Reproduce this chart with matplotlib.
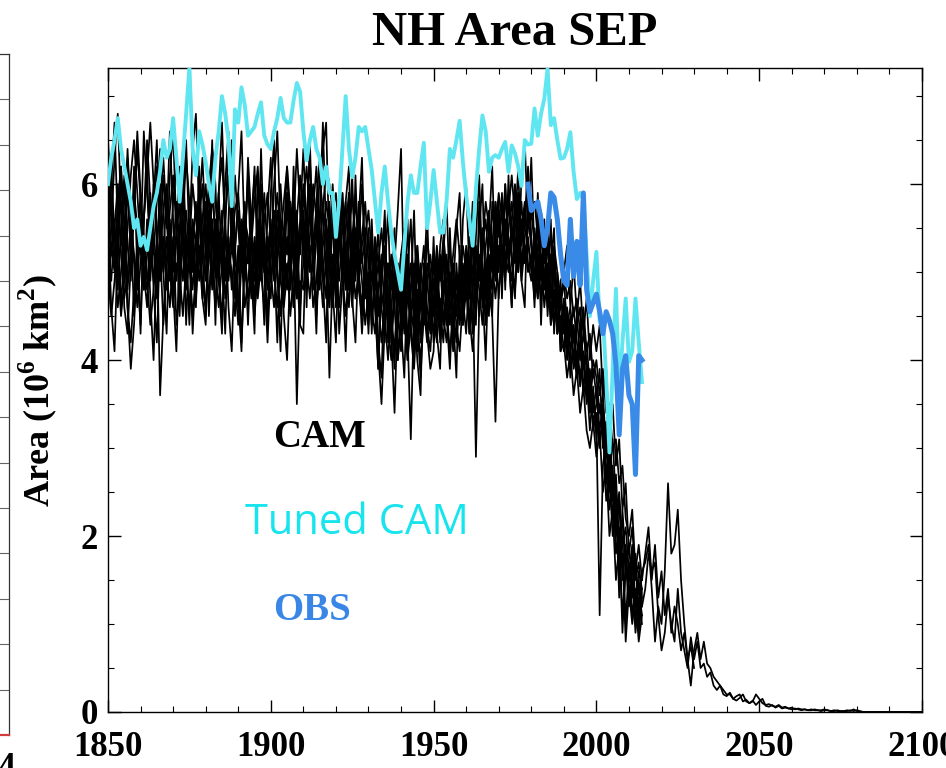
"""NH sea ice area (September): CAM ensemble, tuned CAM and observations."""
import numpy as np
import matplotlib
matplotlib.use("Agg")
import matplotlib.pyplot as plt
from matplotlib.ticker import MultipleLocator

plt.rcParams["mathtext.fontset"] = "custom"
plt.rcParams["mathtext.rm"] = "Liberation Serif:bold"
plt.rcParams["mathtext.bf"] = "Liberation Serif:bold"

SERIF = "Liberation Serif"

years_hist = np.arange(1850, 2015)
years_ext = np.arange(2015, 2101)
years_ext_short = np.arange(2015, 2031)
obs_years = np.arange(1979, 2015)

# CAM ensemble members, 1850-2014 (10^6 km^2)
cam_m1 = [
    5.9, 5.2, 5.6, 4.8, 5.5, 6.1, 5.3, 4.9, 5.7, 6.4,
    5.8, 5.0, 4.6, 5.4, 6.0, 5.5, 4.9, 5.2, 5.9, 5.3,
    4.7, 5.5, 6.2, 5.6, 5.0, 4.6, 5.3, 5.8, 5.1, 5.6,
    6.0, 5.4, 4.8, 5.2, 5.9, 6.3, 5.5, 4.9, 5.3, 5.0,
    4.6, 5.4, 5.8, 5.1, 5.5, 4.9, 5.2, 5.9, 5.4, 4.8,
    5.2, 5.7, 5.0, 4.5, 5.3, 5.9, 5.6, 5.1, 4.7, 5.5,
    6.0, 5.4, 5.0, 5.7, 6.2, 5.3, 4.9, 5.6, 5.2, 5.5,
    4.8, 5.3, 5.7, 5.0, 4.6, 5.4, 5.1, 5.8, 5.2, 4.7,
    5.0, 4.4, 4.9, 5.5, 4.6, 4.2, 5.1, 4.8, 5.3, 4.5,
    4.1, 4.8, 5.2, 4.6, 4.3, 5.0, 4.7, 4.4, 5.1, 4.9,
    4.5, 5.0, 4.6, 4.2, 4.9, 5.3, 4.7, 5.0, 4.4, 4.8,
    5.2, 4.7, 5.4, 5.0, 4.5, 5.3, 5.6, 5.1, 4.8, 5.4,
    5.7, 5.2, 4.9, 5.5, 5.8, 5.3, 5.0, 5.6, 5.2, 5.4,
    5.0, 5.5, 5.1, 4.7, 5.3, 4.9, 5.2, 4.6, 4.8, 4.4,
    4.7, 4.2, 4.5, 4.0, 4.4, 4.6, 3.9, 4.2, 3.7, 4.0,
    3.8, 3.4, 3.6, 3.0, 2.7, 3.1, 2.4, 1.3, 2.3, 1.7,
    1.5, 1.9, 1.2, 1.4, 1.1,
]
cam_m2 = [
    5.1, 6.0, 6.7, 5.5, 4.6, 5.3, 6.4, 5.6, 4.5, 5.4,
    4.3, 5.6, 6.5, 5.8, 4.8, 4.2, 5.4, 6.1, 5.5, 6.6,
    5.6, 4.4, 4.8, 5.9, 6.5, 5.3, 4.3, 5.1, 6.2, 5.2,
    4.5, 5.6, 6.4, 6.0, 4.9, 4.3, 5.5, 6.5, 6.0, 4.7,
    5.3, 4.2, 5.1, 6.3, 5.6, 4.5, 5.0, 6.4, 5.2, 4.4,
    5.9, 6.5, 5.0, 4.1, 5.4, 6.2, 5.2, 4.6, 5.7, 4.4,
    4.3, 5.6, 6.3, 5.4, 4.5, 5.5, 6.4, 6.7, 5.2, 4.6,
    5.6, 4.3, 4.9, 5.8, 6.2, 4.7, 4.2, 5.3, 6.0, 5.1,
    4.3, 5.4, 4.6, 3.9, 5.0, 5.6, 4.2, 4.9, 5.5, 4.0,
    4.6, 5.4, 4.0, 4.8, 5.7, 4.4, 3.8, 4.6, 5.4, 5.0,
    4.2, 4.4, 5.3, 5.6, 4.5, 3.9, 4.8, 5.5, 5.9, 4.7,
    4.3, 5.0, 5.8, 4.6, 5.5, 6.0, 4.7, 4.5, 5.8, 5.3,
    4.7, 5.4, 6.0, 5.3, 4.6, 5.5, 6.2, 5.0, 5.6, 6.2,
    5.4, 4.7, 5.9, 5.0, 5.6, 4.5, 5.1, 5.5, 4.3, 4.8,
    4.3, 4.6, 4.1, 4.4, 3.9, 4.2, 4.5, 3.8, 3.5, 3.9,
    3.6, 3.2, 3.5, 2.9, 3.2, 2.6, 2.2, 2.5, 1.9, 2.1,
    1.6, 1.3, 1.8, 1.0, 1.4,
]
cam_m3 = [
    4.7, 5.3, 5.0, 5.8, 6.2, 5.6, 4.6, 3.9, 4.4, 5.2,
    5.6, 5.0, 4.8, 5.5, 5.2, 5.8, 6.4, 5.7, 5.0, 4.6,
    5.2, 5.8, 5.3, 4.9, 5.4, 5.1, 4.5, 4.9, 5.6, 6.0,
    5.2, 4.7, 5.3, 5.6, 5.0, 4.5, 5.1, 5.4, 4.8, 5.3,
    5.7, 5.2, 4.6, 4.9, 5.3, 5.8, 6.2, 5.5, 5.0, 5.3,
    4.9, 5.3, 5.7, 5.2, 4.8, 5.1, 4.5, 5.0, 5.6, 6.1,
    5.5, 4.9, 5.3, 4.6, 4.9, 5.5, 5.1, 4.7, 5.3, 6.0,
    5.4, 5.8, 5.2, 4.8, 5.3, 5.9, 5.4, 4.8, 4.5, 5.0,
    5.4, 4.9, 5.2, 4.7, 4.2, 4.6, 5.1, 4.5, 4.1, 4.8,
    5.2, 4.5, 4.0, 4.4, 4.9, 4.3, 4.6, 5.0, 4.4, 4.1,
    4.7, 5.1, 4.5, 4.8, 5.2, 4.6, 4.3, 4.7, 5.0, 4.5,
    4.9, 5.4, 5.0, 4.6, 5.1, 4.8, 5.3, 5.7, 5.2, 4.9,
    5.3, 5.0, 5.4, 5.9, 5.5, 5.1, 5.4, 4.9, 5.3, 5.0,
    5.2, 4.8, 5.3, 5.5, 5.0, 4.6, 4.9, 5.2, 4.7, 4.3,
    4.5, 4.1, 4.3, 4.6, 4.2, 3.8, 4.1, 3.6, 3.9, 3.4,
    3.7, 3.1, 3.3, 2.6, 2.9, 2.4, 2.7, 1.9, 2.2, 1.6,
    1.9, 1.4, 1.7, 1.1, 1.6,
]
cam_m4 = [
    6.5, 5.8, 5.2, 4.6, 5.0, 5.5, 4.8, 5.3, 5.9, 5.5,
    5.2, 6.6, 5.9, 5.3, 4.9, 5.4, 3.6, 4.5, 5.1, 5.7,
    6.1, 5.5, 5.0, 5.6, 6.3, 5.8, 5.2, 4.7, 5.3, 4.9,
    4.6, 5.2, 5.9, 5.4, 4.9, 5.5, 6.0, 6.6, 5.7, 5.1,
    5.0, 5.6, 5.3, 4.7, 5.0, 5.4, 4.8, 5.3, 5.9, 5.2,
    5.5, 4.9, 5.4, 6.0, 5.3, 4.8, 5.5, 5.9, 5.3, 4.6,
    5.1, 5.6, 5.2, 4.8, 5.4, 6.1, 5.7, 5.0, 4.6, 5.2,
    5.0, 4.6, 5.1, 5.5, 5.9, 5.2, 4.7, 5.0, 5.4, 5.8,
    5.1, 4.6, 4.3, 4.8, 5.2, 4.5, 4.0, 4.6, 5.0, 4.4,
    4.8, 4.3, 4.7, 5.1, 4.5, 4.1, 4.9, 5.3, 4.6, 4.3,
    4.9, 4.6, 5.1, 4.5, 4.2, 4.7, 5.1, 4.5, 4.9, 5.3,
    5.0, 4.5, 4.1, 4.7, 5.0, 5.5, 5.0, 4.6, 5.3, 5.8,
    5.4, 5.7, 5.2, 5.0, 5.6, 6.0, 5.4, 5.8, 5.1, 5.5,
    5.7, 5.3, 4.9, 5.4, 5.1, 5.3, 4.7, 5.0, 4.4, 4.6,
    4.9, 4.4, 4.6, 4.2, 4.5, 4.0, 4.3, 4.0, 3.6, 3.3,
    3.5, 3.9, 3.0, 3.3, 2.5, 2.8, 2.0, 2.4, 1.5, 1.9,
    1.3, 1.7, 1.0, 1.5, 1.2,
]
cam_m5 = [
    5.3, 4.9, 5.5, 6.0, 5.2, 4.7, 5.0, 5.6, 5.2, 4.8,
    5.6, 5.1, 5.4, 4.9, 5.6, 6.2, 5.6, 5.0, 5.4, 4.9,
    5.4, 4.9, 5.5, 6.0, 5.4, 5.0, 5.6, 5.3, 5.9, 5.4,
    4.9, 5.7, 5.1, 4.6, 5.3, 5.7, 4.9, 5.3, 5.0, 4.5,
    5.1, 5.5, 4.9, 5.3, 4.7, 5.1, 5.6, 5.0, 4.6, 5.2,
    5.6, 5.0, 4.6, 5.1, 5.5, 5.2, 5.8, 5.3, 3.5, 4.9,
    4.8, 5.3, 5.7, 5.1, 4.6, 5.0, 5.4, 5.8, 5.5, 4.9,
    5.3, 4.9, 5.5, 5.8, 5.1, 4.6, 5.2, 4.9, 5.3, 5.5,
    4.6, 5.0, 4.7, 4.1, 3.5, 4.4, 4.8, 4.2, 4.7, 5.1,
    4.5, 4.9, 4.3, 3.1, 4.6, 4.8, 4.2, 4.7, 4.3, 4.6,
    4.3, 4.8, 5.2, 4.7, 4.4, 5.0, 4.6, 4.2, 4.8, 5.1,
    4.7, 5.1, 4.8, 2.9, 4.6, 5.0, 4.5, 4.9, 5.4, 5.0,
    5.6, 5.3, 5.0, 5.4, 5.2, 4.8, 5.3, 5.5, 5.8, 5.1,
    4.9, 5.4, 5.0, 5.2, 4.6, 5.0, 4.5, 4.8, 4.3, 4.5,
    4.1, 4.5, 3.8, 4.3, 4.0, 4.4, 3.7, 3.9, 3.4, 3.6,
    3.3, 1.1, 2.8, 3.1, 2.3, 2.6, 1.8, 2.1, 0.9, 1.7,
    1.2, 1.5, 0.9, 1.3, 1.0,
]
cam_m6 = [
    5.6, 6.2, 5.4, 5.1, 4.5, 4.9, 5.5, 6.1, 6.5, 5.9,
    5.3, 4.8, 5.2, 5.9, 5.3, 4.7, 5.2, 5.7, 6.0, 5.5,
    5.0, 5.4, 5.8, 5.2, 4.8, 5.3, 6.0, 5.6, 5.2, 4.7,
    5.3, 5.9, 5.5, 5.0, 4.6, 5.1, 5.4, 5.0, 5.6, 6.1,
    5.5, 5.0, 5.4, 6.0, 5.4, 4.7, 5.1, 5.5, 5.0, 5.4,
    5.0, 4.6, 5.2, 5.6, 5.0, 5.4, 4.9, 5.5, 6.4, 5.7,
    5.3, 4.9, 5.4, 6.0, 5.6, 5.1, 4.6, 5.2, 3.8, 5.0,
    5.2, 5.6, 5.0, 4.5, 5.0, 5.4, 5.8, 5.3, 4.9, 4.4,
    4.8, 5.3, 5.0, 4.5, 4.9, 5.3, 4.6, 4.3, 3.4, 4.6,
    5.0, 4.6, 4.2, 4.8, 5.1, 4.4, 4.0, 4.5, 4.9, 4.5,
    5.1, 4.7, 4.3, 4.9, 4.6, 4.1, 4.5, 4.9, 4.6, 4.4,
    4.8, 4.3, 4.9, 5.3, 4.8, 4.4, 5.0, 5.4, 5.1, 4.7,
    5.2, 4.9, 5.5, 5.1, 5.4, 5.7, 5.1, 5.4, 5.7, 5.3,
    5.1, 4.7, 5.2, 4.9, 5.4, 4.7, 4.9, 4.4, 4.7, 4.2,
    4.4, 4.0, 4.4, 3.9, 4.1, 3.7, 4.0, 3.5, 3.8, 3.2,
    3.4, 3.0, 3.4, 2.7, 3.0, 2.2, 2.5, 1.7, 2.0, 1.0,
    1.7, 1.1, 1.4, 0.9, 1.3,
]
cam_m7 = [
    5.0, 4.5, 4.9, 5.4, 5.8, 5.3, 4.6, 4.2, 4.8, 5.3,
    5.9, 5.4, 4.9, 4.4, 4.8, 5.3, 5.8, 6.3, 5.6, 5.0,
    4.6, 5.1, 5.0, 4.5, 5.1, 5.6, 5.0, 5.4, 4.9, 5.3,
    5.8, 5.3, 4.9, 5.5, 5.1, 5.4, 4.7, 5.1, 5.5, 4.9,
    4.4, 5.1, 5.6, 5.4, 4.9, 5.3, 4.7, 5.1, 5.6, 5.9,
    5.3, 5.1, 5.5, 4.9, 4.6, 5.0, 5.3, 4.6, 5.0, 5.3,
    5.7, 5.1, 4.7, 5.2, 5.5, 4.8, 5.3, 5.5, 5.0, 4.6,
    5.1, 5.4, 4.9, 5.3, 4.8, 5.2, 5.5, 5.0, 4.6, 5.2,
    4.5, 4.8, 5.4, 5.1, 4.6, 4.9, 4.4, 5.0, 4.6, 4.0,
    4.4, 5.1, 4.8, 4.3, 3.9, 4.6, 5.1, 4.6, 4.2, 4.8,
    4.6, 4.2, 4.7, 4.4, 4.8, 4.4, 4.9, 4.4, 4.1, 4.7,
    5.1, 4.8, 4.4, 4.9, 5.2, 4.6, 5.1, 4.8, 4.5, 3.3,
    4.8, 5.1, 5.6, 5.2, 4.9, 5.3, 5.6, 5.0, 5.4, 5.6,
    5.3, 5.0, 4.7, 5.1, 4.8, 5.1, 4.4, 4.6, 4.9, 4.1,
    4.6, 4.3, 3.9, 4.1, 3.8, 4.2, 3.6, 3.8, 3.2, 3.7,
    3.1, 3.5, 3.2, 2.4, 2.7, 2.0, 2.3, 1.6, 1.8, 0.8,
    1.4, 1.0, 1.3, 0.8, 1.1,
]
cam_m8 = [
    6.2, 5.6, 5.1, 5.7, 5.3, 5.8, 6.3, 5.7, 5.1, 4.6,
    5.1, 5.6, 6.1, 6.7, 6.0, 5.4, 4.9, 5.4, 4.8, 5.2,
    5.8, 6.2, 5.7, 5.3, 5.7, 5.2, 4.8, 5.4, 5.8, 5.1,
    5.6, 6.0, 6.4, 5.8, 5.4, 5.0, 5.6, 6.1, 5.3, 5.7,
    5.9, 5.3, 5.7, 5.1, 5.6, 6.1, 5.4, 4.9, 5.4, 5.0,
    4.7, 5.5, 5.9, 5.4, 5.8, 6.2, 5.7, 5.1, 5.6, 5.2,
    5.8, 6.2, 5.6, 5.3, 5.7, 5.2, 5.7, 6.2, 6.0, 5.7,
    5.9, 5.4, 5.9, 5.2, 5.6, 5.0, 5.3, 5.6, 5.1, 5.4,
    5.7, 5.2, 4.8, 5.1, 5.5, 5.0, 4.7, 5.2, 4.8, 4.6,
    5.2, 5.5, 4.9, 4.5, 5.0, 5.3, 4.8, 4.4, 4.9, 5.2,
    4.8, 5.3, 4.9, 5.4, 5.0, 4.8, 5.2, 5.6, 5.2, 4.8,
    5.3, 5.0, 5.6, 5.2, 4.9, 5.3, 5.8, 5.5, 5.0, 5.5,
    5.9, 5.6, 5.3, 5.7, 6.1, 5.6, 5.9, 5.3, 5.6, 6.0,
    5.6, 5.8, 5.4, 5.7, 5.2, 5.5, 5.0, 5.3, 5.0, 4.7,
    5.0, 4.7, 4.9, 4.5, 4.7, 4.3, 4.6, 4.1, 4.3, 3.8,
    4.0, 3.6, 3.9, 3.4, 3.5, 3.0, 3.1, 2.6, 2.8, 2.2,
    2.0, 2.3, 1.6, 1.9, 1.5,
]
cam_m9 = [
    4.5, 5.5, 6.3, 6.8, 5.7, 4.6, 4.3, 5.1, 6.2, 5.0,
    4.4, 5.6, 6.2, 5.0, 5.8, 6.5, 5.3, 4.4, 5.0, 6.1,
    6.6, 5.5, 4.5, 5.6, 4.4, 5.4, 6.4, 6.8, 5.7, 4.7,
    4.4, 5.5, 6.5, 5.0, 5.9, 6.7, 5.6, 4.6, 4.1, 5.2,
    5.9, 6.6, 5.3, 4.4, 5.4, 6.2, 5.0, 6.0, 5.0, 4.2,
    5.1, 6.0, 6.6, 5.5, 4.5, 4.0, 5.1, 5.9, 4.7, 5.6,
    6.4, 5.4, 6.5, 5.2, 4.3, 5.6, 6.7, 5.4, 4.6, 5.8,
    4.6, 5.8, 5.0, 4.1, 5.4, 6.1, 4.9, 5.6, 6.3, 5.0,
    4.4, 5.6, 4.7, 3.9, 4.9, 5.7, 4.4, 4.0, 5.1, 5.7,
    6.4, 4.6, 5.6, 4.4, 4.0, 5.3, 4.2, 4.9, 5.7, 4.4,
    5.4, 4.3, 3.9, 5.2, 5.8, 4.7, 4.1, 5.1, 4.5, 5.6,
    6.0, 5.0, 4.3, 5.4, 6.1, 5.0, 4.4, 5.5, 6.2, 5.0,
    5.8, 4.7, 6.0, 5.2, 4.6, 5.9, 5.0, 6.1, 6.5, 5.5,
    6.3, 5.2, 4.7, 5.7, 4.8, 5.4, 4.4, 5.2, 4.3, 4.9,
    5.0, 5.3, 4.6, 5.1, 4.5, 4.9, 4.3, 4.7, 4.0, 4.4,
    4.1, 4.4, 3.6, 3.9, 3.1, 3.5, 2.8, 3.1, 2.3, 2.6,
    1.8, 2.1, 1.5, 1.7, 1.3,
]
cam_m10 = [
    5.6, 4.6, 4.1, 5.3, 6.2, 5.0, 6.0, 5.2, 5.8, 6.6,
    5.9, 4.8, 5.6, 4.7, 4.0, 5.2, 6.0, 5.0, 4.3, 5.6,
    4.8, 4.1, 5.3, 6.4, 5.2, 4.4, 5.5, 4.6, 5.7, 6.3,
    5.5, 4.5, 5.6, 4.4, 5.9, 5.1, 4.3, 5.6, 6.5, 5.3,
    4.7, 4.1, 5.3, 6.1, 5.0, 4.3, 6.1, 5.2, 4.4, 5.7,
    6.3, 5.2, 4.2, 5.4, 4.7, 5.9, 4.8, 6.2, 5.0, 4.4,
    5.7, 4.6, 6.0, 5.0, 5.8, 6.3, 4.9, 4.2, 5.8, 4.8,
    4.2, 5.4, 5.9, 4.8, 5.9, 4.7, 6.1, 5.0, 4.3, 4.9,
    5.5, 4.3, 5.3, 4.2, 3.8, 5.0, 5.7, 4.5, 3.9, 5.1,
    4.4, 3.8, 5.0, 5.6, 4.7, 4.0, 3.6, 5.1, 4.3, 3.9,
    4.1, 5.2, 4.2, 5.3, 4.4, 5.5, 4.5, 3.8, 5.3, 4.4,
    5.1, 4.3, 5.5, 4.4, 5.8, 4.8, 4.0, 5.2, 4.5, 5.8,
    5.0, 5.9, 4.8, 6.1, 5.1, 4.7, 5.9, 4.9, 4.6, 6.0,
    5.3, 4.6, 5.7, 4.4, 5.5, 4.7, 5.6, 4.3, 5.0, 4.1,
    4.2, 3.8, 4.1, 3.6, 3.9, 3.4, 3.7, 3.2, 3.0, 3.3,
    2.9, 3.2, 2.5, 2.8, 2.0, 2.3, 1.5, 1.9, 1.1, 1.6,
    1.5, 1.8, 1.2, 1.6, 1.4,
]

# members continued into the future scenario
cam_m3_ext = [
    1.7, 1.9, 1.4, 0.8, 1.2, 1.0, 1.6, 2.6, 1.8, 1.9,
    2.3, 1.5, 1.0, 0.6, 0.3, 0.7, 0.9, 0.6, 0.8, 0.55,
    0.5, 0.4, 0.35, 0.3, 0.25, 0.2, 0.2, 0.15, 0.18, 0.2,
    0.12, 0.14, 0.1, 0.12, 0.2, 0.15, 0.1, 0.08, 0.09, 0.07,
    0.06, 0.08, 0.05, 0.06, 0.04, 0.05, 0.03, 0.04, 0.03, 0.03,
    0.02, 0.03, 0.02, 0.02, 0.02, 0.03, 0.02, 0.01, 0.02, 0.01,
    0.01, 0.01, 0.02, 0.01, 0.03, 0.01, 0.0, 0.0, 0.0, 0.0,
    0.0, 0.0, 0.0, 0.0, 0.0, 0.0, 0.0, 0.0, 0.0, 0.0,
    0.0, 0.0, 0.0, 0.0, 0.0, 0.0,
]
cam_m4_ext = [
    1.4, 1.8, 1.6, 1.7, 1.1, 0.7, 0.9, 1.3, 1.0, 0.8,
    1.4, 0.9, 0.7, 0.5, 0.85, 0.6, 0.8, 0.5, 0.55, 0.4,
    0.45, 0.3, 0.25, 0.3, 0.2, 0.18, 0.22, 0.15, 0.13, 0.16,
    0.2, 0.12, 0.1, 0.13, 0.08, 0.12, 0.15, 0.07, 0.06, 0.08,
    0.05, 0.07, 0.04, 0.05, 0.04, 0.03, 0.04, 0.03, 0.02, 0.03,
    0.02, 0.02, 0.03, 0.02, 0.01, 0.02, 0.02, 0.01, 0.01, 0.02,
    0.01, 0.01, 0.01, 0.02, 0.01, 0.02, 0.01, 0.0, 0.0, 0.0,
    0.0, 0.0, 0.0, 0.0, 0.0, 0.0, 0.0, 0.0, 0.0, 0.0,
    0.0, 0.0, 0.0, 0.0, 0.0, 0.0,
]
cam_m8_ext = [1.8, 2.1, 1.5, 1.9, 1.3, 1.6, 1.1, 1.4, 0.9, 1.2,
              1.0, 0.7, 0.9, 0.6, 0.75, 0.5]

tuned_cam = [
    6.0, 6.3, 6.5, 6.75, 6.4, 6.2, 6.0, 5.8, 5.5, 5.6,
    5.3, 5.4, 5.25, 5.5, 5.75, 5.9, 6.15, 6.5, 6.3, 6.4,
    6.75, 6.3, 5.8, 6.3, 6.8, 7.33, 6.4, 6.1, 6.6, 6.45,
    6.25, 6.0, 5.8, 6.3, 6.6, 7.0, 6.8, 6.5, 5.75, 6.85,
    6.7, 7.1, 6.9, 6.55, 6.6, 6.65, 6.8, 6.93, 6.55, 6.45,
    6.4, 6.6, 6.75, 6.98, 6.75, 6.7, 6.7, 6.95, 7.15, 7.05,
    6.6, 6.27, 6.5, 6.65, 6.4, 6.3, 6.0, 6.2, 5.9, 5.9,
    5.4, 5.8, 6.4, 7.0, 6.4, 6.08, 6.3, 6.65, 6.6, 6.65,
    6.4, 6.16, 5.8, 5.45, 5.9, 6.2, 5.8, 5.45, 5.2, 5.0,
    4.8, 5.3, 5.8, 6.1, 5.9, 5.9, 6.2, 6.47, 5.5, 5.8,
    6.16, 5.8, 5.45, 5.45, 5.82, 6.4, 6.3, 6.5, 6.72, 6.25,
    5.87, 5.6, 5.3, 5.95, 6.4, 6.78, 6.6, 6.14, 6.3, 6.33,
    6.3, 6.4, 6.48, 6.14, 6.44, 6.35, 6.2, 5.98, 6.5, 6.45,
    6.46, 6.86, 6.55, 6.8, 6.97, 7.31, 6.67, 6.75, 6.5, 6.29,
    6.3, 6.4, 6.59, 6.14, 5.83, 5.9, 5.83, 5.2, 4.5, 4.9,
    5.23, 4.43, 4.5, 3.8, 2.95, 3.9, 4.81, 3.6, 4.2, 4.7,
    3.98, 4.1, 4.7, 4.2, 3.75,
]

obs = [
    6.0, 5.7, 5.75, 5.8, 5.6, 5.3, 5.5, 5.9, 5.85, 5.6,
    5.2, 4.9, 4.85, 5.6, 4.95, 5.35, 4.85, 5.9, 4.8, 4.55,
    4.65, 4.75, 4.55, 4.3, 4.55, 4.45, 4.3, 3.95, 3.15, 3.9,
    4.05, 3.6, 3.5, 2.7, 4.05, 4.0,
]

hist_members = [cam_m1, cam_m2, cam_m3, cam_m4, cam_m5,
                cam_m6, cam_m7, cam_m8, cam_m9, cam_m10]

W, H = 946, 768
fig = plt.figure(figsize=(W / 100, H / 100), dpi=100)

# sliver of the neighbouring panel at the left edge
lax = fig.add_axes([-60 / W, (H - 735) / H, 69 / W, 681 / H])
lax.set_xlim(0, 1)
lax.set_ylim(0, 15)
lax.set_xticks([])
lax.yaxis.tick_right()
lax.set_yticks(np.arange(1, 15))
lax.tick_params(axis="y", direction="in", length=7, width=0.8,
                color="#666666", labelright=False)
for side in ("right", "top"):
    lax.spines[side].set_color("#333333")
    lax.spines[side].set_linewidth(0.9)
lax.spines["bottom"].set_color("#d23c3c")
lax.spines["bottom"].set_linewidth(1.6)
fig.text(16 / W, 1 - 752 / H, "14", ha="right", va="top",
         fontsize=25, fontweight="bold", family=SERIF)

ax = fig.add_axes([108 / W, (H - 712) / H, 814 / W, 644 / H])

for m in hist_members:
    ax.plot(years_hist, m, color="black", lw=1.25, zorder=2)
ax.plot(np.r_[years_hist[-1], years_ext], [cam_m3[-1]] + cam_m3_ext,
        color="black", lw=1.25, zorder=2)
ax.plot(np.r_[years_hist[-1], years_ext], [cam_m4[-1]] + cam_m4_ext,
        color="black", lw=1.25, zorder=2)
ax.plot(np.r_[years_hist[-1], years_ext_short], [cam_m8[-1]] + cam_m8_ext,
        color="black", lw=1.25, zorder=2)

ax.plot(years_hist, tuned_cam, color="#5fe6f0", lw=2.8, zorder=3)
ax.plot(obs_years, obs, color="#3a8be8", lw=3.6, zorder=4)

ax.set_xlim(1850, 2100)
ax.set_ylim(0, 7.32)
ax.xaxis.set_major_locator(MultipleLocator(50))
ax.xaxis.set_minor_locator(MultipleLocator(10))
ax.yaxis.set_major_locator(MultipleLocator(2))
ax.yaxis.set_minor_locator(MultipleLocator(0.5))
ax.tick_params(which="both", direction="in", top=True, right=True,
               colors="black")
ax.tick_params(which="major", length=9, width=1.0)
ax.tick_params(which="minor", length=4.5, width=0.8)
ax.tick_params(axis="x", which="major", pad=14)
ax.tick_params(axis="y", which="major", pad=7)
for lab in ax.get_xticklabels() + ax.get_yticklabels():
    lab.set_fontfamily(SERIF)
    lab.set_fontweight("bold")
    lab.set_fontsize(25)
for sp in ax.spines.values():
    sp.set_linewidth(1.0)

ax.text(0.2604, 0.427, "CAM", transform=ax.transAxes, ha="center",
        va="center", fontsize=28, fontweight="bold", family=SERIF,
        color="black")
ax.text(0.306, 0.2935, "Tuned CAM", transform=ax.transAxes, ha="center",
        va="center", fontsize=30, family="Open Sans", color="#18e4ee")
ax.text(0.2506, 0.157, "OBS", transform=ax.transAxes, ha="center",
        va="center", fontsize=28, fontweight="bold", family=SERIF,
        color="#3a86e6")

fig.text(515 / W, 1 - 33 / H, "NH Area SEP", ha="center", va="center",
         fontsize=35, fontweight="bold", family=SERIF)
fig.text(38 / W, 1 - 390 / H, r"Area (10$^{6}$ km$^{2}$)", rotation=90,
         ha="center", va="center", fontsize=26, fontweight="bold",
         family=SERIF)

fig.savefig("out.png", dpi=100)
